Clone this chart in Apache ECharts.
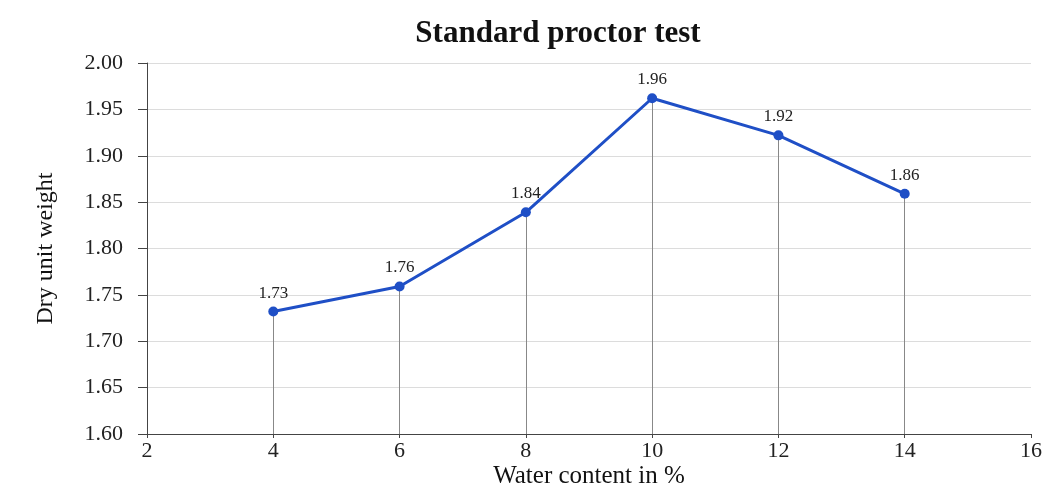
<!DOCTYPE html>
<html>
<head>
<meta charset="utf-8">
<script src="https://cdn.jsdelivr.net/npm/echarts@6/dist/echarts.min.js"></script>
<style>
  html, body { margin: 0; padding: 0; background: #fff; }
  #chart { width: 1057px; height: 490px; }
</style>
</head>
<body>
<div id="chart"></div>
<script>
  var waterContent = [4, 6, 8, 10, 12, 14]
  var dryUnitWeight = [1.732, 1.759, 1.839, 1.962, 1.922, 1.859]
  var yMin = 1.6
  var yMax = 2.0

  var myChart = echarts.init(document.getElementById('chart'))
  var serif = '"Liberation Serif", "DejaVu Serif", serif'

  var points = []
  var drops = []
  for (var i = 0; i < waterContent.length; i++) {
    points.push([waterContent[i], dryUnitWeight[i]])
    // vertical drop line from each point down to the x axis
    drops.push([
      { coord: [waterContent[i], dryUnitWeight[i]] },
      { coord: [waterContent[i], yMin] }
    ])
  }

  var option = {
    backgroundColor: '#fff',
    animation: false,
    title: {
      text: 'Standard proctor test',
      left: 553,
      top: 13,
      textAlign: 'center',
      textStyle: {
        fontFamily: serif,
        fontSize: 31,
        fontWeight: 'bold',
        color: '#111'
      }
    },
    grid: {
      left: 147,
      right: 26,
      top: 63,
      bottom: 56,
      outerBoundsMode: 'none'
    },
    xAxis: {
      type: 'value',
      min: 2,
      max: 16,
      interval: 2,
      name: 'Water content in %',
      nameLocation: 'middle',
      nameGap: 30,
      nameMoveOverlap: false,
      nameTextStyle: { fontFamily: serif, fontSize: 25, color: '#111' },
      axisLine: { lineStyle: { color: '#444', width: 1 } },
      axisTick: { show: true, length: 4, lineStyle: { color: '#444' } },
      axisLabel: { fontFamily: serif, fontSize: 22, color: '#222', margin: 6 },
      splitLine: { show: false }
    },
    yAxis: {
      type: 'value',
      min: yMin,
      max: yMax,
      interval: 0.05,
      name: 'Dry unit weight',
      nameLocation: 'middle',
      nameGap: 89,
      nameMoveOverlap: false,
      nameRotate: 90,
      nameTextStyle: { fontFamily: serif, fontSize: 24, color: '#111' },
      axisLine: { show: true, lineStyle: { color: '#444', width: 1 } },
      axisTick: { show: true, length: 9, lineStyle: { color: '#444' } },
      axisLabel: {
        fontFamily: serif,
        fontSize: 22,
        color: '#222',
        margin: 24,
        formatter: function (v) { return v.toFixed(2) }
      },
      splitLine: { show: true, lineStyle: { color: '#dcdcdc', width: 1 } }
    },
    series: [
      {
        name: 'Dry unit weight',
        type: 'line',
        data: points,
        symbol: 'circle',
        symbolSize: 10,
        itemStyle: { color: '#1f4fc6' },
        lineStyle: { color: '#1f4fc6', width: 3 },
        label: {
          show: true,
          position: 'top',
          distance: 5,
          fontFamily: serif,
          fontSize: 17,
          color: '#222',
          formatter: function (p) { return p.value[1].toFixed(2) }
        },
        z: 3,
        markLine: {
          silent: true,
          symbol: ['none', 'none'],
          label: { show: false },
          lineStyle: { color: '#888', width: 1, type: 'solid' },
          data: drops,
          z: 1
        }
      }
    ]
  }
  myChart.setOption(option)
</script>
</body>
</html>
